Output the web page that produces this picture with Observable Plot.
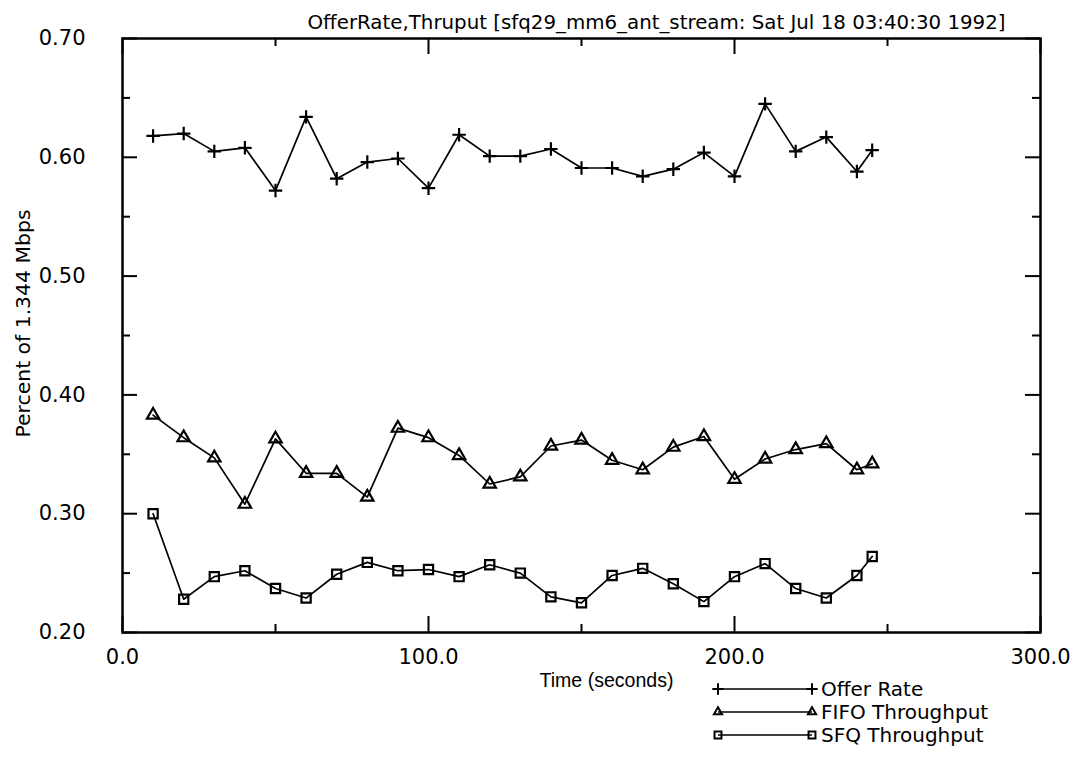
<!DOCTYPE html>
<html>
<head>
<meta charset="utf-8">
<script src="https://cdn.jsdelivr.net/npm/d3@7"></script>
<script src="https://cdn.jsdelivr.net/npm/@observablehq/plot@0.6"></script>
<style>
  html, body { margin: 0; padding: 0; background: #fff; }
  #wrap { position: relative; width: 1079px; height: 769px; overflow: hidden; }
  #legend { position: absolute; left: 0; top: 0; }
</style>
</head>
<body>
<div id="wrap"></div>
<script>
// ---- data ----
const times = [10, 20, 30, 40, 50, 60, 70, 80, 90, 100, 110, 120, 130, 140, 150, 160, 170, 180, 190, 200, 210, 220, 230, 240, 245];
const offerRate = [0.618, 0.620, 0.605, 0.608, 0.572, 0.634, 0.582, 0.596, 0.599, 0.574, 0.619, 0.601, 0.601, 0.607, 0.591, 0.591, 0.584, 0.590, 0.604, 0.584, 0.645, 0.605, 0.617, 0.588, 0.606];
const fifoThroughput = [0.383, 0.364, 0.347, 0.308, 0.363, 0.334, 0.334, 0.314, 0.372, 0.364, 0.349, 0.325, 0.331, 0.357, 0.362, 0.345, 0.337, 0.356, 0.365, 0.329, 0.346, 0.354, 0.359, 0.337, 0.342];
const sfqThroughput = [0.300, 0.228, 0.247, 0.252, 0.237, 0.229, 0.249, 0.259, 0.252, 0.253, 0.247, 0.257, 0.250, 0.230, 0.225, 0.248, 0.254, 0.241, 0.226, 0.247, 0.258, 0.237, 0.229, 0.248, 0.264];
const seriesNames = ["Offer Rate", "FIFO Throughput", "SFQ Throughput"];
const seriesSymbols = ["plus", "triangle", "square"];
const yMajorTicks = [0.2, 0.3, 0.4, 0.5, 0.6, 0.7];
const yMinorTicks = [0.25, 0.35, 0.45, 0.55, 0.65];
const xMajorTicks = [0, 100, 200, 300];
const xMinorTicks = [50, 150, 250];
const titleText = "OfferRate,Thruput [sfq29_mm6_ant_stream: Sat Jul 18 03:40:30 1992]";
const xLabel = "Time (seconds)";
const yLabel = "Percent of 1.344 Mbps";

// ---- build table ----
const seriesValues = [offerRate, fifoThroughput, sfqThroughput];
const rows = [];
seriesNames.forEach((name, si) => {
  times.forEach((t, i) => rows.push({ t, v: seriesValues[si][i], series: name }));
});

const FONT = "'DejaVu Sans', 'Liberation Sans', sans-serif";
const W = 1079, H = 769;
const mL = 122, mR = 39, mT = 38, mB = 137;
const fw = W - mL - mR, fh = H - mT - mB;
const symbolR = { "Offer Rate": 4.4, "FIFO Throughput": 4.6, "SFQ Throughput": 5.2 };

const dotMarks = seriesNames.map((name, si) =>
  Plot.dot(rows.filter(d => d.series === name), {
    x: "t", y: "v", symbol: () => seriesSymbols[si], r: symbolR[name],
    stroke: "black", strokeWidth: 2.2, fill: "none"
  })
);

const chart = Plot.plot({
  width: W, height: H,
  marginLeft: mL, marginRight: mR, marginTop: mT, marginBottom: mB,
  x: { domain: [0, 300] },
  y: { domain: [0.2, 0.7] },
  symbol: { domain: seriesSymbols, range: seriesSymbols },
  style: { fontFamily: FONT, fontSize: "20px", color: "black", background: "white" },
  marks: [
    // inside ticks: left & right
    Plot.ruleY(yMajorTicks, { stroke: "black", strokeWidth: 2, insetRight: fw - 15 }),
    Plot.ruleY(yMinorTicks, { stroke: "black", strokeWidth: 2, insetRight: fw - 8 }),
    Plot.ruleY(yMajorTicks, { stroke: "black", strokeWidth: 2, insetLeft: fw - 15 }),
    Plot.ruleY(yMinorTicks, { stroke: "black", strokeWidth: 2, insetLeft: fw - 8 }),
    // inside ticks: bottom & top
    Plot.ruleX(xMajorTicks, { stroke: "black", strokeWidth: 2, insetTop: fh - 16 }),
    Plot.ruleX(xMinorTicks, { stroke: "black", strokeWidth: 2, insetTop: fh - 8 }),
    Plot.ruleX(xMajorTicks, { stroke: "black", strokeWidth: 2, insetBottom: fh - 16 }),
    Plot.ruleX(xMinorTicks, { stroke: "black", strokeWidth: 2, insetBottom: fh - 8 }),
    Plot.frame({ stroke: "black", strokeWidth: 2.5 }),
    // tick labels
    Plot.axisY(yMajorTicks, { anchor: "left", tickSize: 0, tickPadding: 37, tickFormat: d3.format(".2f"), label: null, fontSize: 21 }),
    Plot.axisX(xMajorTicks, { anchor: "bottom", tickSize: 0, tickPadding: 17, tickFormat: d3.format(".1f"), label: null, fontSize: 21 }),
    // series
    Plot.line(rows, { x: "t", y: "v", z: "series", stroke: "black", strokeWidth: 1.7 }),
    ...dotMarks,
    // title & axis labels
    Plot.text([titleText], { frameAnchor: "top", dx: 75, dy: -24, fontSize: 20, text: d => d, className: "ttl" }),
    Plot.text([xLabel], { frameAnchor: "bottom", dx: 25, dy: 54, fontSize: 20, fontFamily: "'Liberation Sans', sans-serif", text: d => d, className: "xlbl" }),
    Plot.text([yLabel], { frameAnchor: "left", textAnchor: "middle", dx: -99, dy: -12, rotate: -90, fontSize: 20, text: d => d, className: "ylbl" })
  ]
});

document.getElementById("wrap").appendChild(chart);

// stretch text to the reference widths
d3.select(chart).selectAll(".ttl text").attr("textLength", 698).attr("lengthAdjust", "spacingAndGlyphs");
d3.select(chart).selectAll(".ylbl text").attr("textLength", 228).attr("lengthAdjust", "spacingAndGlyphs");
d3.select(chart).selectAll(".xlbl text").attr("textLength", 134).attr("lengthAdjust", "spacingAndGlyphs");

// ---- legend ----
const legendRowsY = [689, 712, 735];
const legend = d3.select("#wrap").append("svg")
  .attr("id", "legend").attr("width", W).attr("height", H)
  .style("font-family", FONT);
const lx1 = 718, lx2 = 812;
const d3Sym = { plus: d3.symbolPlus, triangle: d3.symbolTriangle2, square: d3.symbolSquare2 };
seriesNames.forEach((name, i) => {
  const y = legendRowsY[i];
  const g = legend.append("g");
  g.append("line").attr("x1", lx1).attr("x2", lx2).attr("y1", y).attr("y2", y)
    .attr("stroke", "black").attr("stroke-width", 1.7);
  const r = symbolR[name] * 0.85;
  const path = d3.symbol(d3Sym[seriesSymbols[i]], Math.PI * r * r)();
  [lx1, lx2].forEach(x => g.append("path").attr("d", path)
    .attr("transform", `translate(${x},${y})`)
    .attr("fill", "none").attr("stroke", "black").attr("stroke-width", 2));
  g.append("text").attr("x", 821).attr("y", y).attr("dy", "0.36em")
    .attr("font-size", 20).attr("fill", "black").text(name);
});
</script>
</body>
</html>
